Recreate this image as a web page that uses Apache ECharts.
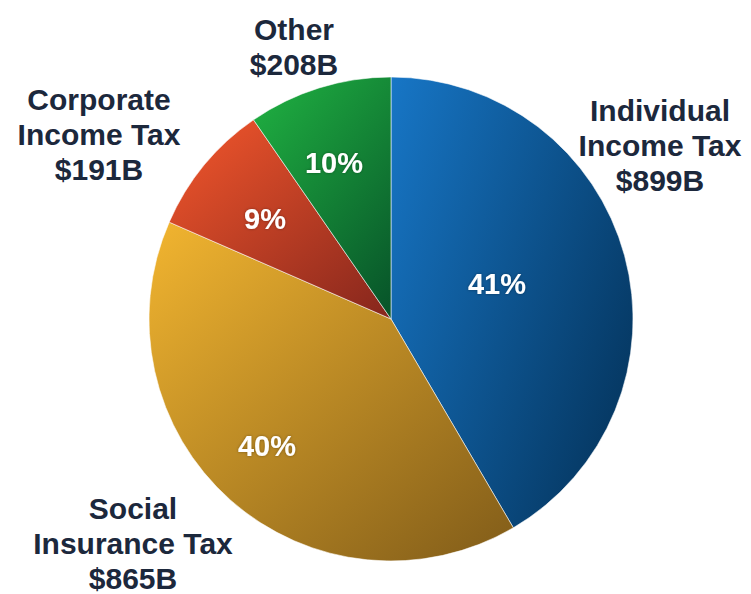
<!DOCTYPE html>
<html>
<head>
<meta charset="utf-8">
<script src="https://cdn.jsdelivr.net/npm/echarts@6/dist/echarts.min.js"></script>
<style>
html,body{margin:0;padding:0;background:#fff;}
#main{width:751px;height:594px;}
</style>
</head>
<body>
<div id="main"></div>
<script>
// ---- data ----
var categories = ['Individual\nIncome Tax', 'Social\nInsurance Tax', 'Corporate\nIncome Tax', 'Other'];
var values = [899, 865, 191, 208]; // $ billions

// ---- styling / layout (not data) ----
var gradients = [
  ['#1776c6', '#063a66', 0, 0, 1, 0.6],
  ['#f2b530', '#86601a', 0, 0, 0.9, 1],
  ['#f4572c', '#8a281d', 0, 0, 0.9, 1],
  ['#1eab40', '#08562a', 0.2, 0, 0.9, 1]
];
var nameLabelPos = [[660, 145], [133, 543], [99, 134], [294, 47]];
var pctLabelPos = [[497, 284], [267, 446], [265, 219], [334, 163]];

var chart = echarts.init(document.getElementById('main'), null, {renderer: 'svg'});

var pieData = categories.map(function (name, i) {
  var g = gradients[i];
  return {
    name: name,
    value: values[i],
    itemStyle: {
      color: new echarts.graphic.LinearGradient(g[2], g[3], g[4], g[5], [
        {offset: 0, color: g[0]},
        {offset: 1, color: g[1]}
      ])
    }
  };
});

var common = {
  type: 'pie',
  center: [391, 319],
  radius: [0, 242],
  startAngle: 90,
  clockwise: true,
  percentPrecision: 0,
  animation: false,
  avoidLabelOverlap: false,
  labelLine: {show: false}
};

chart.setOption({
  backgroundColor: '#ffffff',
  series: [
    Object.assign({}, common, {
      data: pieData,
      itemStyle: {borderColor: 'rgba(255,255,255,0.55)', borderWidth: 1},
      label: {
        show: true,
        position: 'inside',
        formatter: '{d}%',
        color: '#ffffff',
        fontFamily: '"Liberation Sans", Arial, sans-serif',
        fontWeight: 'bold',
        fontSize: 29,
        overflow: 'none',
        textShadowColor: 'rgba(0,0,0,0.35)',
        textShadowBlur: 3
      },
      labelLayout: function (p) {
        var pos = pctLabelPos[p.dataIndex];
        return {x: pos[0], y: pos[1], align: 'center', verticalAlign: 'middle'};
      }
    }),
    Object.assign({}, common, {
      silent: true,
      data: categories.map(function (name, i) {
        return {name: name, value: values[i]};
      }),
      itemStyle: {color: 'rgba(0,0,0,0)', borderWidth: 0},
      label: {
        show: true,
        position: 'outside',
        alignTo: 'none',
        overflow: 'none',
        width: 300,
        formatter: function (p) { return p.name + '\n$' + p.value + 'B'; },
        color: '#1c283c',
        fontFamily: '"Liberation Sans", Arial, sans-serif',
        fontWeight: 'bold',
        fontSize: 30,
        lineHeight: 35,
        align: 'center'
      },
      labelLayout: function (p) {
        var pos = nameLabelPos[p.dataIndex];
        return {x: pos[0], y: pos[1], align: 'center', verticalAlign: 'middle'};
      }
    })
  ]
});
</script>
</body>
</html>
